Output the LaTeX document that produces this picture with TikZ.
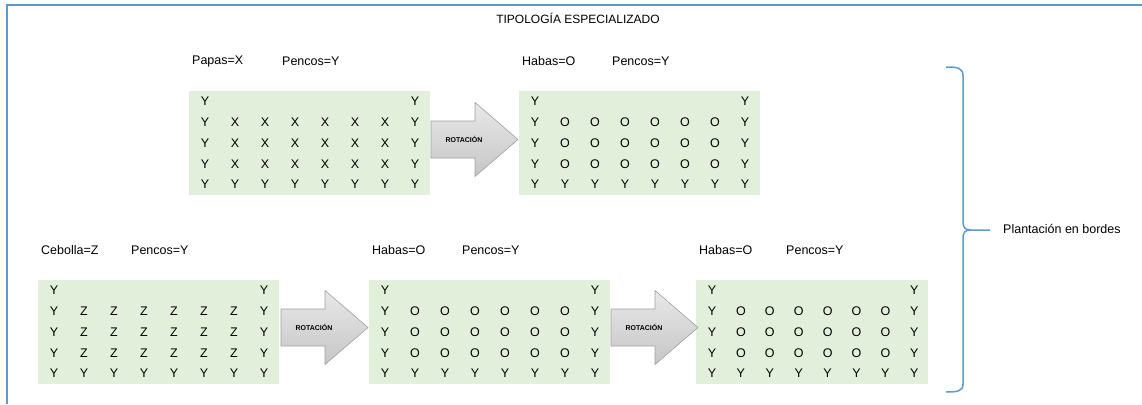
\documentclass[tikz,border=0pt]{standalone}
\usepackage{fontspec}
\setmainfont{Liberation Sans}
\definecolor{fieldgreen}{HTML}{E2EFDA}
\definecolor{frameblue}{HTML}{5B9BD5}
\tikzset{
  field/.style={fill=fieldgreen, draw=none, inner sep=0pt, anchor=north west},
  cell/.style={inner sep=0pt, font=\fontsize{12.5}{14}\selectfont},
  lbl/.style={inner sep=0pt, anchor=west, font=\fontsize{12.5}{14}\selectfont},
  rotarr/.style={draw=gray!75, line width=0.6pt, top color=gray!18, bottom color=gray!45},
  rottext/.style={inner sep=0pt, font=\fontsize{7}{8}\selectfont\bfseries},
  frame/.style={draw=frameblue, line width=1.8pt},
  bracestyle/.style={draw=frameblue, line width=1.5pt}
}
\newcommand{\drawgrid}[6]{%
  % #1 name, #2 left, #3 top, #4 letter, #5 column spacing, #6 width
  \node[field, minimum width=#6pt, minimum height=104pt] (#1) at (#2,#3) {};
  \foreach \c in {0,7} \node[cell] (#1-0-\c) at ({#2+16+\c*#5},{#3+10}) {Y};
  \foreach \r in {1,2,3} {
    \foreach \c in {0,7} \node[cell] (#1-\r-\c) at ({#2+16+\c*#5},{#3+10+\r*20.9}) {Y};
    \foreach \c in {1,...,6} \node[cell] (#1-\r-\c) at ({#2+16+\c*#5},{#3+10+\r*20.9}) {#4};
  }
  \foreach \c in {0,...,7} \node[cell] (#1-4-\c) at ({#2+16+\c*#5},{#3+10+4*20.9}) {Y};
}
\newcommand{\rotarrow}[3]{%
  % #1 name, #2 left x, #3 centre y
  \draw[rotarr] (#2,#3-18.5) -- (#2+44,#3-18.5) -- (#2+44,#3-37) -- (#2+87,#3)
     -- (#2+44,#3+37) -- (#2+44,#3+18.5) -- (#2,#3+18.5) -- cycle;
  \node[rottext] (#1) at (#2+33,#3) {ROTACIÓN};
}
\begin{document}
\begin{tikzpicture}[x=1pt,y=-1pt]
\useasboundingbox (0,0) rectangle (1142,404);
\draw[frame] (7,404) -- (7,5) -- (1142,5);
\node[inner sep=0pt, font=\fontsize{12}{14}\selectfont] (title) at (578,18) {TIPOLOGÍA ESPECIALIZADO};

% row 1
\node[lbl] (l1a) at (192,61) {Papas=X};
\node[lbl] (l1b) at (282,61) {Pencos=Y};
\node[lbl] (l2a) at (522,61) {Habas=O};
\node[lbl] (l2b) at (612,61) {Pencos=Y};
\drawgrid{g1}{189}{91}{X}{30}{241}
\drawgrid{g2}{519}{91}{O}{30}{241}
\rotarrow{a1}{431}{139.5}

% row 2
\node[lbl] (l3a) at (41,250) {Cebolla=Z};
\node[lbl] (l3b) at (131,250) {Pencos=Y};
\node[lbl] (l4a) at (372,250) {Habas=O};
\node[lbl] (l4b) at (462,250) {Pencos=Y};
\node[lbl] (l5a) at (699,250) {Habas=O};
\node[lbl] (l5b) at (786,250) {Pencos=Y};
\drawgrid{g3}{38}{280}{Z}{30}{241}
\drawgrid{g4}{369}{280}{O}{30}{241}
\drawgrid{g5}{696}{280}{O}{28.9}{232}
\rotarrow{a2}{281}{327.5}
\rotarrow{a3}{611}{327.5}

% brace
\coordinate (btop) at (946,67);
\coordinate (bbot) at (946,392);
\coordinate (btip) at (990,230);
\node[lbl] (plant) at (1003,229) {Plantación en bordes};
\draw[bracestyle] (btop) .. controls (958,67) and (963,68) .. (963,76) -- (963,221)
   .. controls (963,228) and (965,230) .. (971,230) -- (btip);
\draw[bracestyle] (971,230) .. controls (965,230) and (963,232) .. (963,239) -- (963,384)
   .. controls (963,391) and (958,392) .. (bbot);
\end{tikzpicture}
\end{document}
